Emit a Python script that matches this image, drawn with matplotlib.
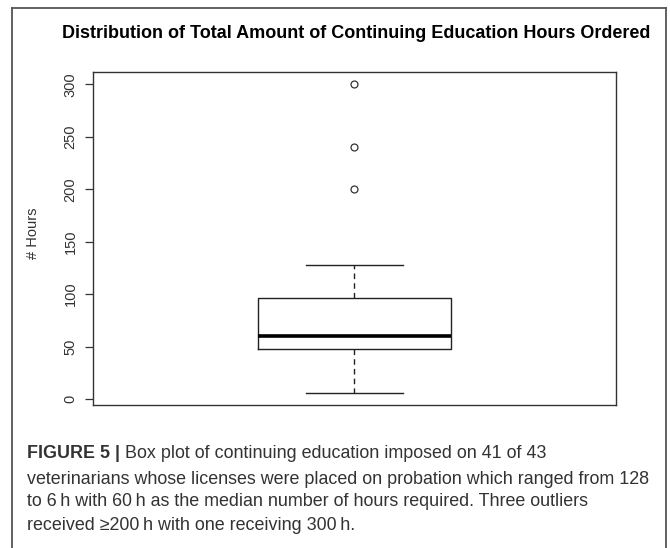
import matplotlib
matplotlib.use("Agg")
import matplotlib.pyplot as plt
from matplotlib.lines import Line2D

# summary statistics of continuing education hours ordered
q1 = 48
median = 60
q3 = 96
whisker_low = 6
whisker_high = 128
outliers = [200, 240, 300]

yticks = [0, 50, 100, 150, 200, 250, 300]

title = "Distribution of Total Amount of Continuing Education Hours Ordered"
ylabel = "# Hours"
caption_head = "FIGURE 5 | "
caption_lines = [
    "Box plot of continuing education imposed on 41 of 43",
    "veterinarians whose licenses were placed on probation which ranged from 128",
    "to 6\u2009h with 60\u2009h as the median number of hours required. Three outliers",
    "received \u2265200\u2009h with one receiving 300\u2009h.",
]

W, H = 670, 548
fig = plt.figure(figsize=(W / 100, H / 100), dpi=100)
fig.patch.set_facecolor("white")

ax = fig.add_axes([93 / W, 1 - 405 / H, (616 - 93) / W, (405 - 72) / H])

stats = [{
    "q1": q1, "med": median, "q3": q3,
    "whislo": whisker_low, "whishi": whisker_high,
    "fliers": outliers,
}]
ax.bxp(stats, positions=[1], widths=0.4, capwidths=0.2,
       boxprops=dict(color="#222222", linewidth=1.0),
       medianprops=dict(color="black", linewidth=2.6),
       whiskerprops=dict(color="#222222", linewidth=1.0, linestyle=(0, (4, 3))),
       capprops=dict(color="#222222", linewidth=1.0),
       flierprops=dict(marker="o", markersize=5, markerfacecolor="none",
                       markeredgecolor="#333333", markeredgewidth=0.9))

span = max(outliers) - whisker_low
ax.set_xlim(0.46, 1.54)
ax.set_ylim(whisker_low - 0.04 * span, max(outliers) + 0.04 * span)
ax.set_xticks([])
ax.set_yticks(yticks)
ax.set_yticklabels([str(t) for t in yticks], rotation=90, va="center",
                   fontsize=10.5, color="#333333", family="Liberation Sans")
ax.tick_params(axis="y", length=6, width=0.9, color="#333333", pad=5)
for s in ax.spines.values():
    s.set_color("#333333")
    s.set_linewidth(1.0)

fig.text(33 / W, 1 - 233 / H, ylabel, rotation=90, ha="center", va="center",
         fontsize=10.5, color="#333333", family="Liberation Sans")
fig.text(356 / W, 1 - 34 / H, title, ha="center", va="center",
         fontsize=13, fontweight="bold", color="black", family="Liberation Sans")

# outer frame around figure and caption
frame_kw = dict(color="#555555", linewidth=1.3, transform=fig.transFigure)
fig.add_artist(Line2D([12 / W, 12 / W], [0, 1 - 8 / H], **frame_kw))
fig.add_artist(Line2D([666 / W, 666 / W], [0, 1 - 8 / H], **frame_kw))
fig.add_artist(Line2D([12 / W, 666 / W], [1 - 8 / H, 1 - 8 / H], **frame_kw))

# caption
cap_kw = dict(fontsize=12.9, color="#333333", family=["Liberation Sans", "DejaVu Sans"])
line_y = [453, 479, 502, 525]
head = fig.text(27 / W, 1 - line_y[0] / H, caption_head, ha="left", va="center",
                fontweight="bold", **cap_kw)
fig.canvas.draw()
bb = head.get_window_extent()
fig.text(bb.x1 / W, 1 - line_y[0] / H, caption_lines[0], ha="left", va="center", **cap_kw)
for txt, y in zip(caption_lines[1:], line_y[1:]):
    fig.text(27 / W, 1 - y / H, txt, ha="left", va="center", **cap_kw)

fig.savefig("out.png", dpi=100)
